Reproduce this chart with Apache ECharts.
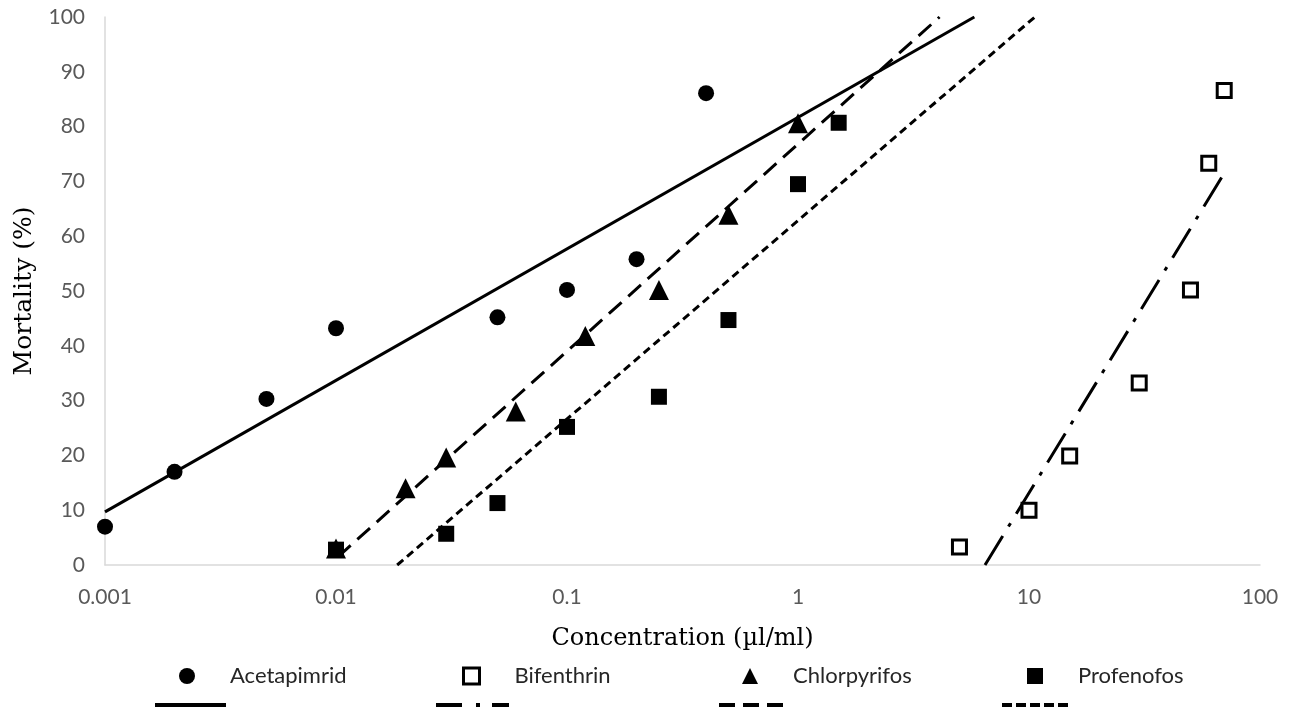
<!DOCTYPE html>
<html>
<head>
<meta charset="utf-8">
<script src="https://cdn.jsdelivr.net/npm/echarts@6/dist/echarts.min.js"></script>
<style>html,body{margin:0;padding:0;background:#fff}#c{width:1290px;height:711px}</style>
</head>
<body>
<div id="c"></div>
<script>
// Scatter data: [concentration (µl/ml), mortality (%)]
const acetapimrid = [[0.001,7],[0.002,17],[0.005,30.3],[0.01,43.2],[0.05,45.2],[0.1,50.2],[0.2,55.8],[0.4,86.1]];
const bifenthrin = [[5,3.3],[10,10],[15,19.9],[30,33.2],[50,50.2],[60,73.3],[70,86.6]];
const chlorpyrifos = [[0.01,3],[0.02,14],[0.03,19.6],[0.06,28],[0.12,41.8],[0.25,50.2],[0.5,63.9],[1,80.6]];
const profenofos = [[0.01,2.8],[0.03,5.7],[0.05,11.3],[0.1,25.2],[0.25,30.7],[0.5,44.7],[1,69.5],[1.5,80.7]];
// Trend line end points
const acetapimridTrend = [[0.001,9.7],[5.8,100]];
const bifenthrinTrend = [[6.45,0],[70,71.5]];
const chlorpyrifosTrend = [[0.0102,1.5],[4.1,100]];
const profenofosTrend = [[0.0184,0],[10.6,100]];
const yTicks = [0,10,20,30,40,50,60,70,80,90,100];
const xTickLabels = {'0.001':'0.001','0.01':'0.01','0.1':'0.1','1':'1','10':'10','100':'100'};
const names = ['Acetapimrid','Bifenthrin','Chlorpyrifos','Profenofos'];

const chart = echarts.init(document.getElementById('c'));
const tickFont = {color:'#595959', fontSize:21, fontFamily:'Lato'};
const lineBase = {color:'#000', width:3};
const dashes = ['solid', [34,11,4,11], [17,9], [8,5]];
const legendDashes = ['solid', [26,14,4,12], [16,8], [10,4]];
const markerStyles = [
  {color:'#000', opacity:1},
  {color:'#fff', borderColor:'#000', borderWidth:3, opacity:1},
  {color:'#000', opacity:1},
  {color:'#000', opacity:1}
];
function trend(i, data){
  return {name:names[i]+' trend', type:'line', data:data, symbol:'none', showSymbol:false,
    lineStyle:Object.assign({}, lineBase, {type:dashes[i]}), itemStyle:{color:'#000'}, clip:true, silent:true, z:2};
}
function legendMarker(i, left){
  return {data:[names[i]], left:left, top:665, padding:0, itemWidth:16, itemHeight:16, selectedMode:false,
    itemStyle:markerStyles[i],
    textStyle:{color:'#262626', fontSize:22, fontFamily:'Lato', padding:[0,0,0,30]}};
}
function legendLine(i, left, w){
  return {data:[names[i]+' trend'], left:left, top:698, padding:0, itemWidth:w, itemHeight:14, selectedMode:false,
    itemStyle:{opacity:0}, lineStyle:{width:4, type:legendDashes[i], color:'#000'},
    formatter:function(){return '';}, textStyle:{fontSize:1}};
}
chart.setOption({
  animation:false,
  backgroundColor:'#fff',
  grid:{left:105, right:30, top:17, bottom:146, containLabel:false},
  xAxis:{type:'log', logBase:10, min:0.001, max:100,
    name:'Concentration (µl/ml)', nameLocation:'middle', nameGap:62,
    nameTextStyle:{fontFamily:'DejaVu Serif', fontSize:24, color:'#000'},
    axisLine:{show:true, lineStyle:{color:'#d9d9d9', width:1.5}},
    axisTick:{show:false}, splitLine:{show:false}, minorSplitLine:{show:false},
    axisLabel:Object.assign({margin:22, formatter:function(v){
      const k = String(+v.toPrecision(3)); return xTickLabels[k] !== undefined ? xTickLabels[k] : k;}}, tickFont)},
  yAxis:{type:'value', min:yTicks[0], max:yTicks[yTicks.length-1], interval:10,
    name:'Mortality (%)', nameLocation:'middle', nameGap:68,
    nameTextStyle:{fontFamily:'DejaVu Serif', fontSize:25, color:'#000'},
    axisLine:{show:true, lineStyle:{color:'#d9d9d9', width:1.5}},
    axisTick:{show:false}, splitLine:{show:false},
    axisLabel:Object.assign({margin:20}, tickFont)},
  legend:[
    legendMarker(0,179), legendMarker(1,462), legendMarker(2,742), legendMarker(3,1027),
    legendLine(0,153,71), legendLine(1,434,73), legendLine(2,717,65), legendLine(3,1000,68)
  ],
  series:[
    {name:names[0], type:'scatter', data:acetapimrid, symbol:'circle', symbolSize:16, itemStyle:markerStyles[0], z:3},
    {name:names[1], type:'scatter', data:bifenthrin, symbol:'rect', symbolSize:14, itemStyle:markerStyles[1], z:3},
    {name:names[2], type:'scatter', data:chlorpyrifos, symbol:'triangle', symbolSize:20, itemStyle:markerStyles[2], z:3},
    {name:names[3], type:'scatter', data:profenofos, symbol:'rect', symbolSize:16, itemStyle:markerStyles[3], z:3},
    trend(0, acetapimridTrend),
    trend(1, bifenthrinTrend),
    trend(2, chlorpyrifosTrend),
    trend(3, profenofosTrend)
  ]
});
</script>
</body>
</html>
